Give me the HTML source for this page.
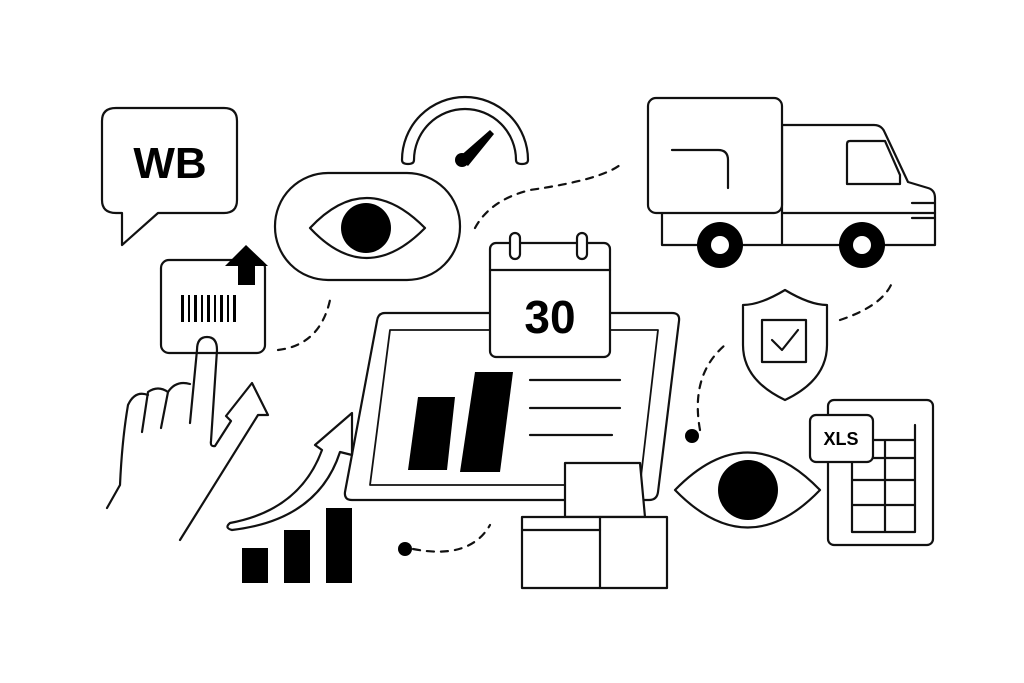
<!DOCTYPE html>
<html><head><meta charset="utf-8"><style>
html,body{margin:0;padding:0;background:#fff;}
svg{display:block}
text{font-family:"Liberation Sans",sans-serif;font-weight:bold;fill:#000}
</style></head><body>
<svg width="1024" height="683" viewBox="0 0 1024 683" xmlns="http://www.w3.org/2000/svg">
<g fill="none" stroke="#111" stroke-width="2.2" stroke-linejoin="round" stroke-linecap="round">
<!-- WB bubble -->
<path d="M116 108 H224 Q237 108 237 121 V200 Q237 213 224 213 H158 L122 245 L122 213 H116 Q102 213 102 200 V121 Q102 108 116 108 Z"/>
<!-- gauge -->
<path d="M402 160 A63 63 0 0 1 528 160 Q528 164 522 164 Q516 164 516 160 A51 51 0 0 0 414 160 Q414 164 408 164 Q402 164 402 160 Z"/>
<!-- eye pill -->
<rect x="275" y="173" width="185" height="107" rx="53"/>
<path d="M310 228 Q366 168 425 228 Q366 288 310 228 Z"/>
<!-- dashed lines -->
<path d="M475 228 Q490 200 530 190 Q600 180 620 165" stroke-dasharray="7 7"/>
<path d="M278 350 Q320 345 330 300" stroke-dasharray="7 7"/>
<path d="M413 549 Q470 560 490 525" stroke-dasharray="7 7"/>
<path d="M700 430 Q690 375 725 345" stroke-dasharray="7 7"/>
<path d="M840 320 Q885 305 893 280" stroke-dasharray="7 7"/>
<!-- truck -->
<path d="M662 213 V245 H935 V198 Q935 190 928 188 L908 182 L885 133 Q882 125 874 125 H782 V245"/>
<rect x="648" y="98" width="134" height="115" rx="8" fill="#fff"/>
<path d="M672 150 H718 Q728 150 728 160 V188"/>
<path d="M782 213 H935"/>
<path d="M850 141 H885 L900 175 V184 H847 V144 Q847 141 850 141 Z"/>
<path d="M912 203 H935 M912 218 H935"/>
<!-- barcode box -->
<rect x="161" y="260" width="104" height="93" rx="8"/>
<!-- hand -->
<path d="M197 350 Q197 337 207 337 Q217 337 217 350 L211 441 Q210 447 215 446 L231 421 L226 416 L252 383 L268 415 L258 415 L180 540"/>
<path d="M197 350 L190 423"/>
<path d="M190 384 Q176 380 168 392 L161 428"/>
<path d="M168 392 Q158 385 148 392 L142 432"/>
<path d="M148 395 Q135 390 128 405 Q122 440 120 485 L107 508"/>
<!-- arrow to laptop -->
<path d="M230 523 Q300 510 322 450 L315 445 L352 413 L352 455 L340 452 Q318 520 232 530 Q224 528 230 523 Z"/>
<!-- laptop -->
<path d="M385 313 H672 Q680 313 679 321 L658 492 Q657 500 649 500 H352 Q344 500 345 492 L377 321 Q378 313 385 313 Z"/>
<path d="M390 330 H658 L640 485 H370 Z" stroke-width="1.8"/>
<path d="M530 380 H620 M530 408 H620 M530 435 H612"/>
<!-- calendar -->
<rect x="490" y="243" width="120" height="114" rx="6" fill="#fff"/>
<path d="M490 270 H610"/>
<rect x="510" y="233" width="10" height="26" rx="5" fill="#fff"/>
<rect x="577" y="233" width="10" height="26" rx="5" fill="#fff"/>
<!-- boxes -->
<path d="M565 463 H640 L645 517 H565 Z" fill="#fff"/>
<path d="M522 517 H667 V588 H522 Z" fill="#fff"/>
<path d="M600 517 V588"/>
<path d="M522 530 H600"/>
<!-- shield -->
<path d="M785 290 Q810 305 827 305 V345 Q827 380 785 400 Q743 380 743 345 V305 Q760 305 785 290 Z"/>
<rect x="762" y="320" width="44" height="42"/>
<path d="M772 340 L782 350 L798 330"/>
<!-- bottom eye -->
<path d="M675 490 Q748 415 820 490 Q748 565 675 490 Z"/>
<!-- spreadsheet -->
<rect x="828" y="400" width="105" height="145" rx="6"/>
<path d="M852 462 V532 H915 V425 M852 480 H915 M852 505 H915 M885 440 V532 M873 440 H915 M873 458 H915"/>
<rect x="810" y="415" width="63" height="47" rx="6" fill="#fff"/>
</g>
<g fill="#000">
<text x="170" y="178" font-size="44" text-anchor="middle">WB</text>
<path d="M458 158 L490 130 L494 134 L468 166 Z"/><circle cx="462" cy="160" r="7"/>
<circle cx="366" cy="228" r="25"/>
<circle cx="720" cy="245" r="23"/><circle cx="862" cy="245" r="23"/>
<path d="M181 295h3v27h-3zM188 295h2v27h-2zM194 295h3v27h-3zM201 295h2v27h-2zM207 295h3v27h-3zM214 295h2v27h-2zM220 295h3v27h-3zM227 295h2v27h-2zM233 295h3v27h-3z"/>
<path d="M246 245 L268 266 H255 V285 H238 V266 H225 Z"/>
<path d="M418 397 H455 L447 470 H408 Z"/>
<path d="M475 372 H513 L500 472 H460 Z"/>
<text x="550" y="333" font-size="46" text-anchor="middle">30</text>
<rect x="242" y="548" width="26" height="35"/>
<rect x="284" y="530" width="26" height="53"/>
<rect x="326" y="508" width="26" height="75"/>
<circle cx="405" cy="549" r="7"/><circle cx="692" cy="436" r="7"/>
<circle cx="748" cy="490" r="30"/>
<text x="841" y="445" font-size="18" text-anchor="middle" font-weight="normal">XLS</text>
</g>
<circle cx="720" cy="245" r="9" fill="#fff"/><circle cx="862" cy="245" r="9" fill="#fff"/>
</svg>
</body></html>
